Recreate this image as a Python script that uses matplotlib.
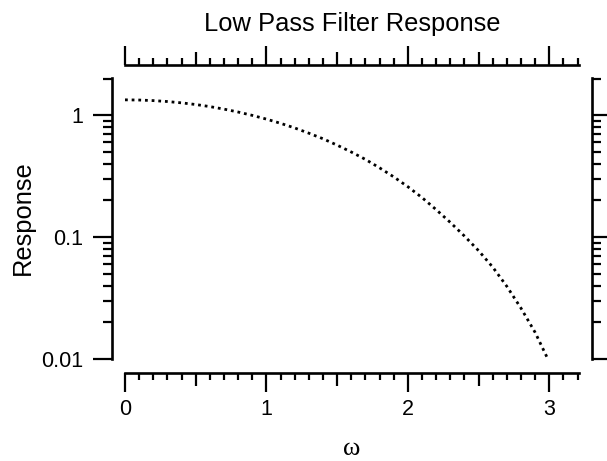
import matplotlib
matplotlib.use("Agg")
import matplotlib.pyplot as plt
from matplotlib.ticker import FixedLocator, MultipleLocator, LogLocator, NullFormatter
import numpy as np

# values
omega = [0.0, 0.1, 0.2, 0.3, 0.4, 0.5, 0.6, 0.7, 0.8, 0.9, 1.0,
         1.1, 1.2, 1.3, 1.4, 1.5, 1.6, 1.7, 1.8, 1.9, 2.0,
         2.1, 2.2, 2.3, 2.4, 2.5, 2.6, 2.7, 2.8, 2.9, 3.0]
response = [1.337, 1.332, 1.318, 1.295, 1.263, 1.224, 1.177, 1.122, 1.062, 0.997, 0.929,
            0.858, 0.786, 0.712, 0.641, 0.568, 0.499, 0.434, 0.370, 0.312, 0.259,
            0.211, 0.168, 0.132, 0.102, 0.0774, 0.0567, 0.0394, 0.0261, 0.0165, 0.00944]

x_ticks = [0, 1, 2, 3]
y_ticks = [0.01, 0.1, 1]
y_ticklabels = ["0.01", "0.1", "1"]

plt.rcParams['font.family'] = ['Liberation Sans', 'DejaVu Sans']

W, H = 607, 461
fig = plt.figure(figsize=(W / 100, H / 100), dpi=100)
ax = fig.add_axes([125 / W, 1 - 359 / H, 454 / W, 281 / H])

ax.plot(omega, response, color='black', lw=2.0, linestyle=(0, (1, 1.4)))

ax.set_yscale('log')
ax.set_xlim(0, 3.21)
ax.set_ylim(0.01, 2.02)

# detached spines
px = 0.72
ax.spines['left'].set_position(('outward', 13 * px))
ax.spines['right'].set_position(('outward', 13 * px))
ax.spines['bottom'].set_position(('outward', 14 * px))
ax.spines['top'].set_position(('outward', 13 * px))
for s in ax.spines.values():
    s.set_linewidth(1.9)

ax.xaxis.set_major_locator(FixedLocator(x_ticks))
ax.xaxis.set_minor_locator(MultipleLocator(0.1))
ax.yaxis.set_major_locator(FixedLocator(y_ticks))
ax.set_yticklabels(y_ticklabels)
ax.yaxis.set_minor_locator(LogLocator(base=10, subs=np.arange(2, 10)))
ax.yaxis.set_minor_formatter(NullFormatter())

ax.tick_params(axis='both', which='both', direction='out', width=1.6,
               top=True, right=True, labeltop=False, labelright=False,
               labelsize=15.5)
ax.tick_params(axis='both', which='major', length=19 * px)
ax.tick_params(axis='x', which='minor', length=7 * px)
ax.tick_params(axis='y', which='minor', length=9 * px)
ax.tick_params(axis='x', which='major', pad=5)
ax.tick_params(axis='y', which='major', pad=7)

# half-unit ticks on the x axis are a bit longer
locs = ax.xaxis.get_minorticklocs()
for loc, t in zip(locs, ax.xaxis.get_minor_ticks(len(locs))):
    if abs(loc * 2 - round(loc * 2)) < 1e-6:
        t.tick1line.set_markersize(13 * px)
        t.tick2line.set_markersize(13 * px)

fig.text(352 / W, 1 - 31.5 / H, "Low Pass Filter Response", ha='center', va='baseline', fontsize=18.4)
fig.text(23 / W, 1 - 218 / H, "Response", ha='center', va='center', rotation=90, fontsize=18.4)
fig.text(352 / W, 1 - 455 / H, "ω", ha='center', va='baseline', fontsize=19,
         family=['Liberation Serif', 'DejaVu Serif'])

fig.savefig("out.png", dpi=100)
